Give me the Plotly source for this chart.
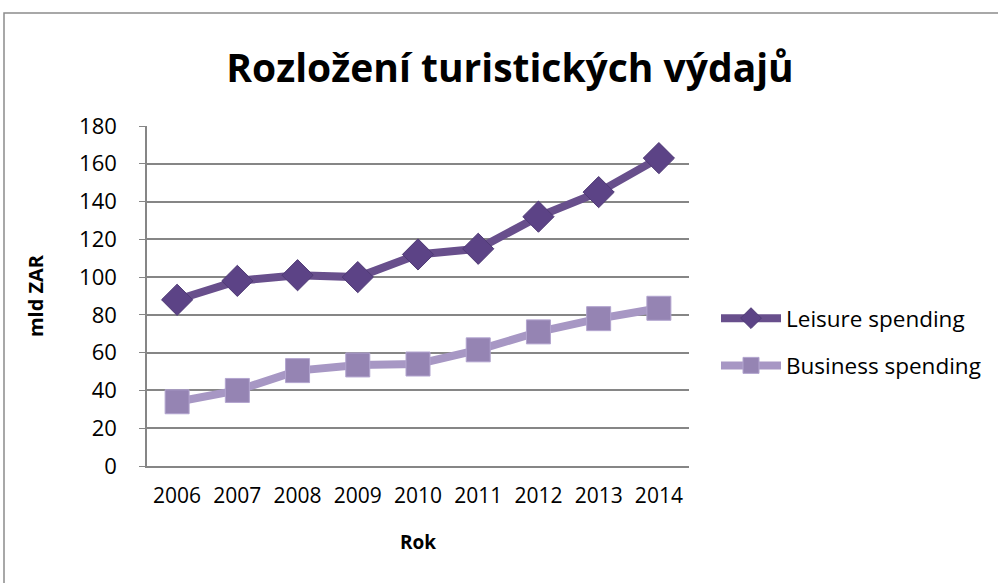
import plotly.graph_objects as go

years = ["2006", "2007", "2008", "2009", "2010", "2011", "2012", "2013", "2014"]
leisure = [88, 98, 101, 100, 112, 115, 132, 145, 163]
business = [34, 40, 50.5, 53.5, 54, 61.5, 71, 78, 83.5]

W, H = 998, 583
L, R, T, B = 147, 309, 126, 117
pw, ph = W - L - R, H - T - B

fig = go.Figure()
fig.add_trace(go.Scatter(
    x=years, y=leisure, name="Leisure spending", mode="lines+markers",
    legendgroup="a",
    line=dict(color="#684f8c", width=8),
    marker=dict(symbol="diamond", size=24, color="#5c4386",
                line=dict(color="#4f3a75", width=1)),
))
fig.add_trace(go.Scatter(
    x=years, y=business, name="Business spending", mode="lines+markers",
    legendgroup="b",
    line=dict(color="#a797c4", width=8),
    marker=dict(symbol="square", size=24, color="#9584b3",
                line=dict(color="#b2a4cf", width=1)),
))

font = "'Open Sans', 'Noto Sans', sans-serif"
fig.update_layout(
    width=W, height=H,
    margin=dict(l=L, r=R, t=T, b=B, autoexpand=False),
    paper_bgcolor="white", plot_bgcolor="white",
    title=dict(text="<b>Rozložení turistických výdajů</b>", x=510 / W, xanchor="center",
               y=1 - 68 / H, yanchor="middle",
               font=dict(family=font, size=39, color="black")),
    font=dict(family=font, size=21, color="black"),
    showlegend=True,
    legend=dict(x=(716 - L) / pw, xanchor="left", y=(466 - 297) / ph, yanchor="top",
                font=dict(size=22.5), itemwidth=60, tracegroupgap=15,
                bgcolor="rgba(0,0,0,0)"),
    shapes=[dict(type="rect", xref="paper", yref="paper",
                 x0=(4 - L) / pw, x1=(1000 - L) / pw,
                 y0=(466 - 584) / ph, y1=(466 - 13) / ph,
                 line=dict(color="#8c8c8c", width=1.5), layer="below")],
    hovermode=False,
)
fig.update_xaxes(
    type="category", range=[-0.5, len(years) - 0.5],
    showgrid=False, showline=True, linecolor="#868686", linewidth=1.5,
    ticks="", tickfont=dict(size=21), ticklabelstandoff=10,
    title=dict(text="<b>Rok</b>", font=dict(size=19), standoff=28),
)
fig.update_yaxes(
    range=[0, 180], dtick=20, showgrid=True, gridcolor="#868686", gridwidth=1.5,
    showline=True, linecolor="#868686", linewidth=1.5, ticks="outside", ticklen=6,
    tickcolor="#868686", tickfont=dict(size=22), zeroline=False, ticklabelstandoff=18,
    title=dict(text="<b>mld ZAR</b>", font=dict(size=20), standoff=30),
)

fig.write_html("out.html", config={"displayModeBar": False},
               post_script="document.body.style.margin='0';document.body.style.overflow='hidden';")
